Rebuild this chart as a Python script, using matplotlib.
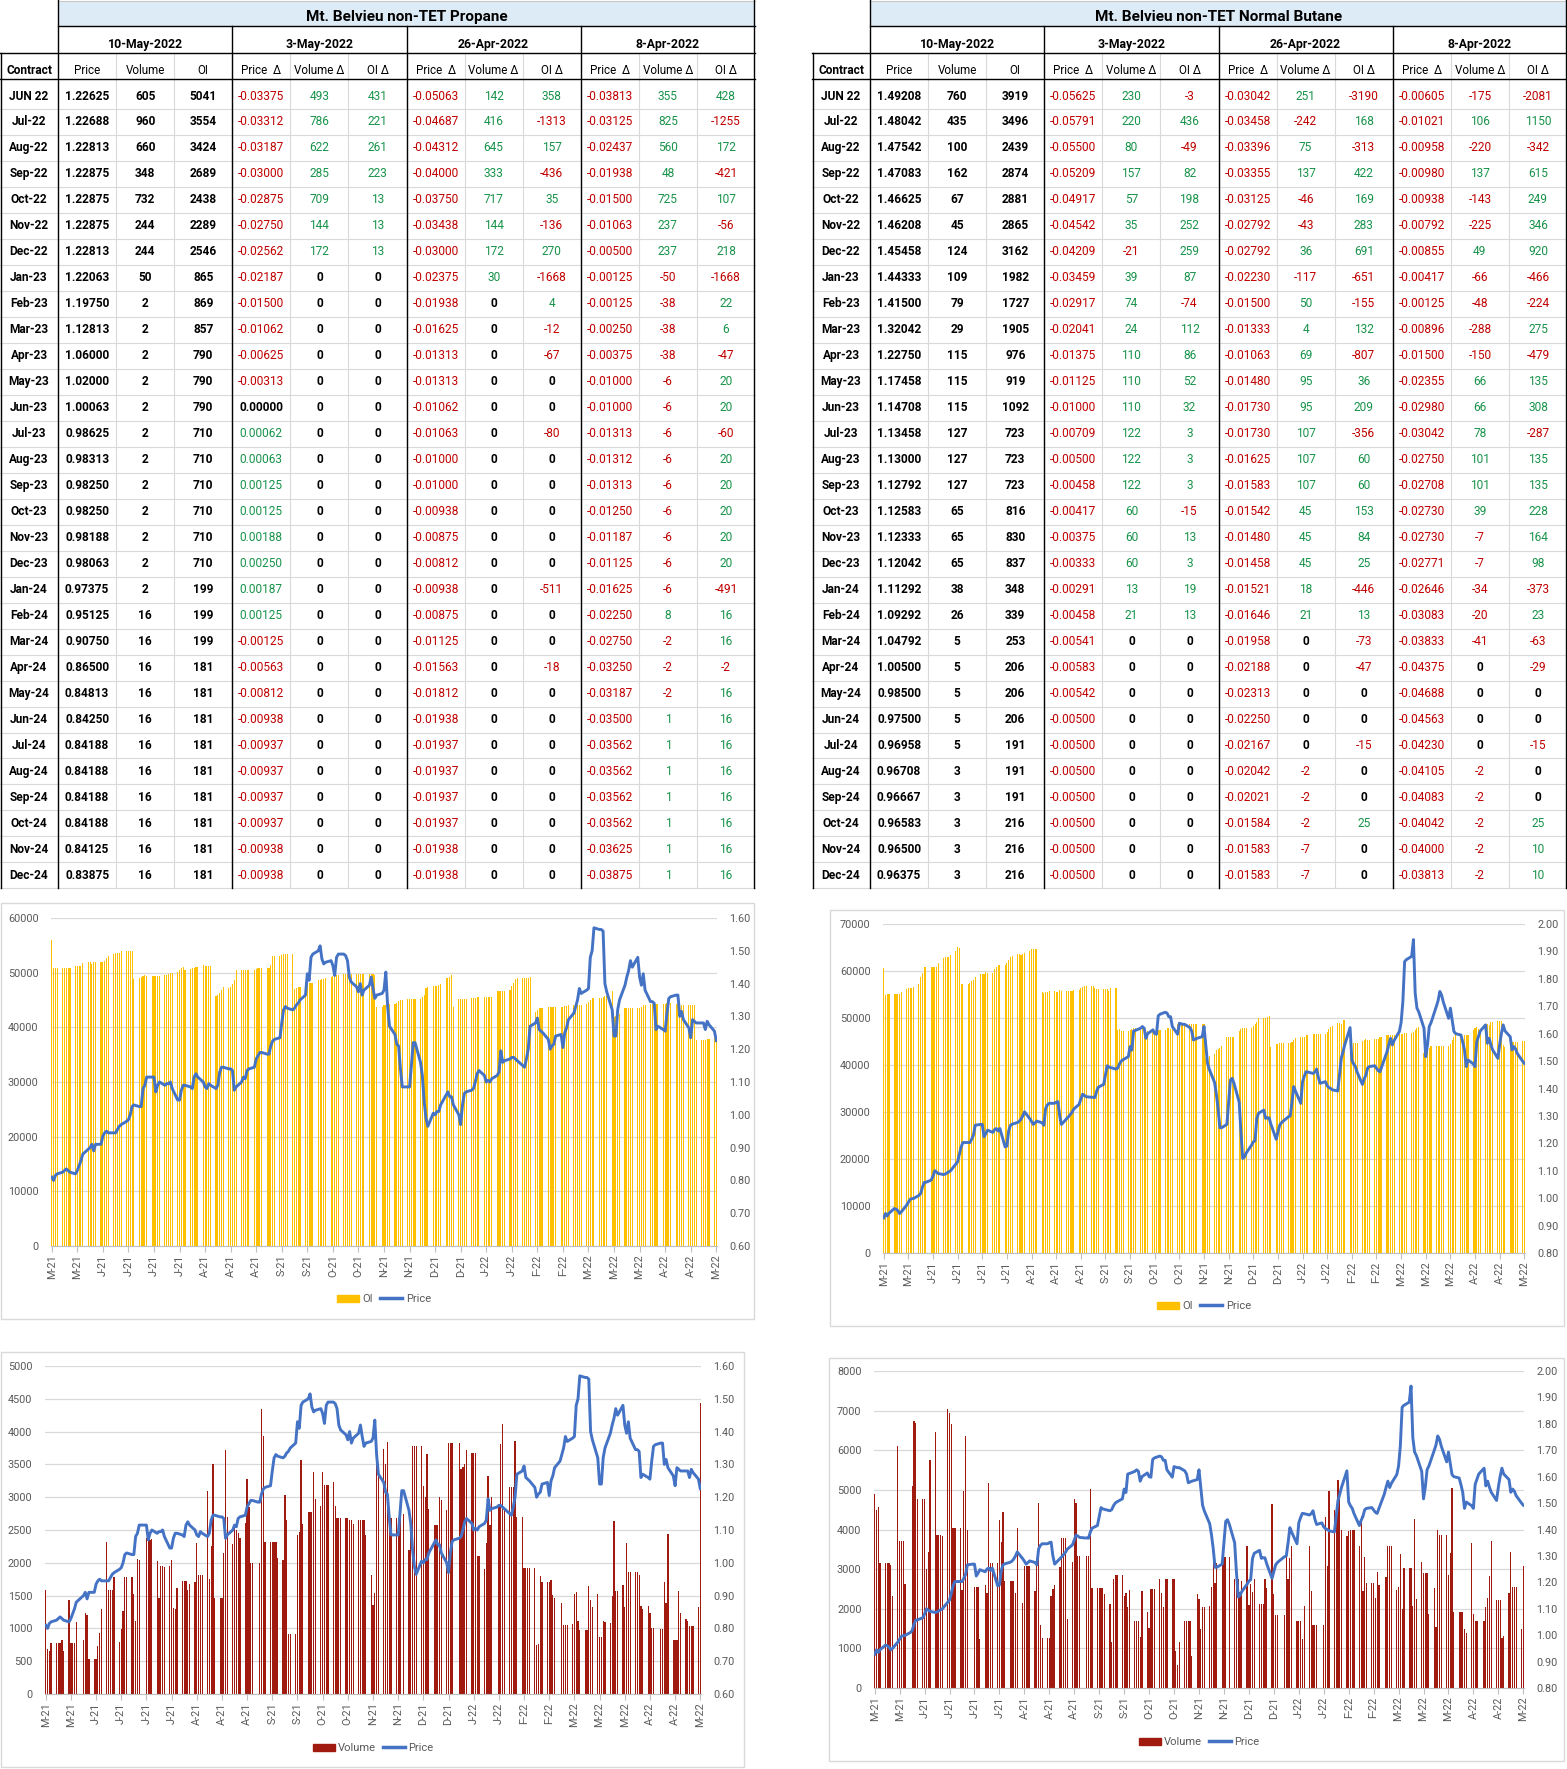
import numpy as np
import pandas as pd
import matplotlib
matplotlib.use("Agg")
import matplotlib.pyplot as plt
from matplotlib.patches import Rectangle, Patch
from matplotlib.lines import Line2D

plt.rcParams['font.family'] = ['Roboto', 'DejaVu Sans']

# ---------------- table data ----------------
contracts = ['JUN 22', 'Jul-22', 'Aug-22', 'Sep-22', 'Oct-22', 'Nov-22', 'Dec-22',
             'Jan-23', 'Feb-23', 'Mar-23', 'Apr-23', 'May-23', 'Jun-23', 'Jul-23',
             'Aug-23', 'Sep-23', 'Oct-23', 'Nov-23', 'Dec-23', 'Jan-24', 'Feb-24',
             'Mar-24', 'Apr-24', 'May-24', 'Jun-24', 'Jul-24', 'Aug-24', 'Sep-24',
             'Oct-24', 'Nov-24', 'Dec-24']
report_dates = ['10-May-2022', '3-May-2022', '26-Apr-2022', '8-Apr-2022']

# propane
c3_price = [1.22625, 1.22688, 1.22813, 1.22875, 1.22875, 1.22875, 1.22813, 1.22063, 1.19750,
            1.12813, 1.06000, 1.02000, 1.00063, 0.98625, 0.98313, 0.98250, 0.98250, 0.98188,
            0.98063, 0.97375, 0.95125, 0.90750, 0.86500, 0.84813, 0.84250, 0.84188, 0.84188,
            0.84188, 0.84188, 0.84125, 0.83875]
c3_volume = [605, 960, 660, 348, 732, 244, 244, 50, 2, 2, 2, 2, 2, 2, 2, 2, 2, 2, 2, 2,
             16, 16, 16, 16, 16, 16, 16, 16, 16, 16, 16]
c3_oi = [5041, 3554, 3424, 2689, 2438, 2289, 2546, 865, 869, 857, 790, 790, 790, 710, 710,
         710, 710, 710, 710, 199, 199, 199, 181, 181, 181, 181, 181, 181, 181, 181, 181]
c3_dprice_0503 = [-0.03375, -0.03312, -0.03187, -0.03000, -0.02875, -0.02750, -0.02562,
                  -0.02187, -0.01500, -0.01062, -0.00625, -0.00313, 0.00000, 0.00062, 0.00063,
                  0.00125, 0.00125, 0.00188, 0.00250, 0.00187, 0.00125, -0.00125, -0.00563,
                  -0.00812, -0.00938, -0.00937, -0.00937, -0.00937, -0.00937, -0.00938, -0.00938]
c3_dvol_0503 = [493, 786, 622, 285, 709, 144, 172] + [0] * 24
c3_doi_0503 = [431, 221, 261, 223, 13, 13, 13] + [0] * 24
c3_dprice_0426 = [-0.05063, -0.04687, -0.04312, -0.04000, -0.03750, -0.03438, -0.03000,
                  -0.02375, -0.01938, -0.01625, -0.01313, -0.01313, -0.01062, -0.01063, -0.01000,
                  -0.01000, -0.00938, -0.00875, -0.00812, -0.00938, -0.00875, -0.01125, -0.01563,
                  -0.01812, -0.01938, -0.01937, -0.01937, -0.01937, -0.01937, -0.01938, -0.01938]
c3_dvol_0426 = [142, 416, 645, 333, 717, 144, 172, 30] + [0] * 23
c3_doi_0426 = [358, -1313, 157, -436, 35, -136, 270, -1668, 4, -12, -67, 0, 0, -80, 0, 0, 0,
               0, 0, -511, 0, 0, -18, 0, 0, 0, 0, 0, 0, 0, 0]
c3_dprice_0408 = [-0.03813, -0.03125, -0.02437, -0.01938, -0.01500, -0.01063, -0.00500,
                  -0.00125, -0.00125, -0.00250, -0.00375, -0.01000, -0.01000, -0.01313, -0.01312,
                  -0.01313, -0.01250, -0.01187, -0.01125, -0.01625, -0.02250, -0.02750, -0.03250,
                  -0.03187, -0.03500, -0.03562, -0.03562, -0.03562, -0.03562, -0.03625, -0.03875]
c3_dvol_0408 = [355, 825, 560, 48, 725, 237, 237, -50, -38, -38, -38, -6, -6, -6, -6, -6, -6,
                -6, -6, -6, 8, -2, -2, -2, 1, 1, 1, 1, 1, 1, 1]
c3_doi_0408 = [428, -1255, 172, -421, 107, -56, 218, -1668, 22, 6, -47, 20, 20, -60, 20, 20, 20,
               20, 20, -491, 16, 16, -2, 16, 16, 16, 16, 16, 16, 16, 16]

# normal butane
c4_price = [1.49208, 1.48042, 1.47542, 1.47083, 1.46625, 1.46208, 1.45458, 1.44333, 1.41500,
            1.32042, 1.22750, 1.17458, 1.14708, 1.13458, 1.13000, 1.12792, 1.12583, 1.12333,
            1.12042, 1.11292, 1.09292, 1.04792, 1.00500, 0.98500, 0.97500, 0.96958, 0.96708,
            0.96667, 0.96583, 0.96500, 0.96375]
c4_volume = [760, 435, 100, 162, 67, 45, 124, 109, 79, 29, 115, 115, 115, 127, 127, 127, 65,
             65, 65, 38, 26, 5, 5, 5, 5, 5, 3, 3, 3, 3, 3]
c4_oi = [3919, 3496, 2439, 2874, 2881, 2865, 3162, 1982, 1727, 1905, 976, 919, 1092, 723, 723,
         723, 816, 830, 837, 348, 339, 253, 206, 206, 206, 191, 191, 191, 216, 216, 216]
c4_dprice_0503 = [-0.05625, -0.05791, -0.05500, -0.05209, -0.04917, -0.04542, -0.04209,
                  -0.03459, -0.02917, -0.02041, -0.01375, -0.01125, -0.01000, -0.00709, -0.00500,
                  -0.00458, -0.00417, -0.00375, -0.00333, -0.00291, -0.00458, -0.00541, -0.00583,
                  -0.00542, -0.00500, -0.00500, -0.00500, -0.00500, -0.00500, -0.00500, -0.00500]
c4_dvol_0503 = [230, 220, 80, 157, 57, 35, -21, 39, 74, 24, 110, 110, 110, 122, 122, 122, 60,
                60, 60, 13, 21, 0, 0, 0, 0, 0, 0, 0, 0, 0, 0]
c4_doi_0503 = [-3, 436, -49, 82, 198, 252, 259, 87, -74, 112, 86, 52, 32, 3, 3, 3, -15, 13, 3,
               19, 13, 0, 0, 0, 0, 0, 0, 0, 0, 0, 0]
c4_dprice_0426 = [-0.03042, -0.03458, -0.03396, -0.03355, -0.03125, -0.02792, -0.02792,
                  -0.02230, -0.01500, -0.01333, -0.01063, -0.01480, -0.01730, -0.01730, -0.01625,
                  -0.01583, -0.01542, -0.01480, -0.01458, -0.01521, -0.01646, -0.01958, -0.02188,
                  -0.02313, -0.02250, -0.02167, -0.02042, -0.02021, -0.01584, -0.01583, -0.01583]
c4_dvol_0426 = [251, -242, 75, 137, -46, -43, 36, -117, 50, 4, 69, 95, 95, 107, 107, 107, 45,
                45, 45, 18, 21, 0, 0, 0, 0, 0, -2, -2, -2, -7, -7]
c4_doi_0426 = [-3190, 168, -313, 422, 169, 283, 691, -651, -155, 132, -807, 36, 209, -356, 60,
               60, 153, 84, 25, -446, 13, -73, -47, 0, 0, -15, 0, 0, 25, 0, 0]
c4_dprice_0408 = [-0.00605, -0.01021, -0.00958, -0.00980, -0.00938, -0.00792, -0.00855,
                  -0.00417, -0.00125, -0.00896, -0.01500, -0.02355, -0.02980, -0.03042, -0.02750,
                  -0.02708, -0.02730, -0.02730, -0.02771, -0.02646, -0.03083, -0.03833, -0.04375,
                  -0.04688, -0.04563, -0.04230, -0.04105, -0.04083, -0.04042, -0.04000, -0.03813]
c4_dvol_0408 = [-175, 106, -220, 137, -143, -225, 49, -66, -48, -288, -150, 66, 66, 78, 101, 101,
                39, -7, -7, -34, -20, -41, 0, 0, 0, 0, -2, -2, -2, -2, -2]
c4_doi_0408 = [-2081, 1150, -342, 615, 249, 346, 920, -466, -224, 275, -479, 135, 308, -287, 135,
               135, 228, 164, 98, -373, 23, -63, -29, 0, 0, -15, 0, 0, 25, 10, 10]

# ---------------- daily history (11-May-2021 .. 10-May-2022, one row per week) ----------------
c3_hist_price = [
    0.81, 0.80, 0.815, 0.82,
    0.825, 0.83, 0.835, 0.83, 0.825,
    0.82, 0.83, 0.845, 0.86, 0.88,
    0.895, 0.90, 0.91, 0.89, 0.91,
    0.91, 0.935, 0.945, 0.95, 0.945,
    0.945, 0.945, 0.955, 0.965, 0.97,
    0.98, 0.985, 1.00, 1.025, 1.03,
    1.025, 1.025, 1.08, 1.09, 1.115,
    1.115, 1.115, 1.07, 1.09, 1.10,
    1.09, 1.095, 1.095, 1.10, 1.08,
    1.045, 1.045, 1.075, 1.09, 1.09,
    1.085, 1.08, 1.115, 1.125, 1.115,
    1.10, 1.085, 1.08, 1.095, 1.09,
    1.08, 1.09, 1.13, 1.145, 1.145,
    1.14, 1.14, 1.135, 1.075, 1.085,
    1.10, 1.115, 1.11, 1.135, 1.14,
    1.145, 1.17, 1.18, 1.19, 1.19,
    1.185, 1.185, 1.21, 1.225, 1.23,
    1.235, 1.28, 1.32, 1.33, 1.325,
    1.32, 1.325, 1.335, 1.34, 1.35,
    1.365, 1.43, 1.41, 1.48, 1.49,
    1.50, 1.515, 1.475, 1.46, 1.465,
    1.47, 1.455, 1.425, 1.48, 1.49,
    1.49, 1.485, 1.47, 1.42, 1.405,
    1.39, 1.375, 1.40, 1.365, 1.38,
    1.395, 1.42, 1.385, 1.355, 1.365,
    1.37, 1.38, 1.435, 1.33, 1.27,
    1.245, 1.215, 1.21, 1.14, 1.085,
    1.085, 1.085, 1.15, 1.22, 1.22,
    1.16, 1.12, 1.04, 0.99, 0.965,
    1.005, 1.00, 1.01, 1.01, 1.03,
    1.06, 1.07, 1.055, 1.055, 1.03,
    1.00, 0.97, 1.03, 1.065, 1.07,
    1.075, 1.08, 1.10, 1.125, 1.135,
    1.12, 1.10, 1.105, 1.10, 1.11,
    1.12, 1.13, 1.195, 1.16, 1.165,
    1.17, 1.175, 1.175, 1.17, 1.165,
    1.15, 1.145, 1.17, 1.20, 1.27,
    1.28, 1.295, 1.26, 1.255, 1.25,
    1.23, 1.20, 1.21, 1.215, 1.24,
    1.245, 1.205, 1.25, 1.265, 1.29,
    1.31, 1.33, 1.35, 1.385, 1.37,
    1.38, 1.385, 1.48, 1.50, 1.57,
    1.565, 1.565, 1.56, 1.40, 1.375,
    1.32, 1.24, 1.24, 1.32, 1.35,
    1.395, 1.42, 1.44, 1.47, 1.45,
    1.48, 1.42, 1.395, 1.43, 1.38,
    1.345, 1.345, 1.34, 1.26, 1.27,
    1.26, 1.255, 1.31, 1.355, 1.36,
    1.365, 1.365, 1.30, 1.315, 1.29,
    1.265, 1.235, 1.29, 1.285, 1.28,
    1.28, 1.28, 1.26, 1.285, 1.275,
    1.255, 1.226]

c3_hist_oi = [
    56000, 50800, 50800, 50900,
    50900, 50900, 50900, 50900, 50900,
    51200, 51300, 51300, 51300, 51800,
    51900, 51900, 51500, 51900, 51900,
    51900, 51900, 52200, 52600, 53000,
    53400, 53600, 53600, 53600, 53900,
    54000, 54000, 54000, 54000, 48900,
    49000, 49200, 49300, 49600, 49400,
    49300, 49300, 49300, 49300, 49300,
    49500, 49600, 49800, 50000, 50000,
    50200, 50500, 50800, 51000, 50400,
    50700, 50800, 50900, 51100, 51000,
    51400, 51200, 51200, 51200, 51200,
    45800, 45900, 46200, 46800, 47300,
    47200, 47400, 47900, 48600, 50400,
    50400, 50400, 50400, 50400, 50400,
    50400, 50600, 50800, 50800, 50800,
    50800, 50900, 51400, 53100, 53100,
    53100, 53200, 53400, 53400, 53400,
    53400, 47100, 47200, 47300, 47300,
    47500, 47700, 48100, 48100, 48100,
    48700, 48700, 48800, 48900, 49000,
    49200, 49300, 49300, 49500, 49500,
    49800, 49800, 49800, 49800, 49800,
    49800, 49800, 49800, 49800, 49800,
    49800, 49800, 49800, 49600, 43800,
    43800, 44000, 44000, 44200, 44200,
    44300, 44500, 44800, 45000, 45000,
    45200, 45200, 45200, 45200, 45200,
    45200, 45600, 46000, 47200, 47300,
    47500, 47500, 47600, 47800, 48000,
    49000, 49000, 49200, 49500, 43800,
    45200, 45200, 45200, 45200, 45200,
    45300, 45400, 45400, 45500, 45600,
    45500, 45500, 45500, 45600, 45600,
    46700, 46700, 46700, 46700, 46700,
    46800, 47500, 48200, 48800, 49000,
    49000, 49000, 49000, 49000, 49200,
    42800, 43200, 43500, 43600, 43600,
    43800, 43800, 43800, 43800, 43800,
    43800, 43800, 43900, 43900, 44000,
    44000, 44000, 44000, 44000, 44000,
    44300, 44700, 45000, 45300, 45300,
    45300, 45300, 45500, 45800, 45800,
    46700, 41800, 42000, 42300, 42500,
    43500, 43500, 43500, 43500, 43500,
    43500, 43600, 43800, 44000, 44100,
    44200, 44200, 44200, 44200, 44200,
    44300, 44300, 44400, 44500, 44500,
    44300, 44300, 44100, 44100, 44000,
    44000, 44000, 44000, 44000, 37600,
    37600, 37600, 37700, 37800, 37800,
    38000, 38500]

c3_hist_volume = [
    1580, 680, 660, 770,
    770, 770, 770, 830, 650,
    1430, 770, 770, 770, 1100,
    0, 830, 1230, 1210, 540,
    540, 540, 730, 930, 1290,
    2310, 1580, 1580, 1580, 1790,
    790, 990, 1260, 1790, 1790,
    1790, 1520, 1110, 2060, 2040,
    0, 2380, 2350, 2350, 2360,
    2020, 1470, 1950, 1950, 1930,
    1950, 2050, 1310, 1290, 1610,
    1730, 1730, 1730, 1590, 1670,
    1710, 2300, 1820, 1820, 1820,
    3090, 1760, 2260, 3500, 1470,
    1470, 1470, 2150, 3720, 2700,
    2290, 2580, 2500, 2460, 2380,
    2600, 3270, 2850, 1990, 1990,
    0, 1990, 4350, 3940, 2310,
    2310, 2310, 2310, 2310, 2070,
    2040, 3030, 2650, 920, 920,
    920, 2430, 2470, 3560, 2590,
    2780, 2780, 2780, 3390, 2970,
    2860, 3390, 3190, 3190, 3190,
    3230, 2870, 2690, 2690, 2690,
    2690, 2690, 2660, 2660, 2590,
    2660, 2660, 2660, 2660, 2420,
    1820, 1360, 1540, 3740, 3500,
    3740, 3500, 3840, 2690, 2690,
    2690, 2690, 2690, 0, 2740,
    2190, 2740, 3780, 3780, 3780,
    3780, 3170, 3000, 3660, 2820,
    2580, 2580, 2580, 3000, 2960,
    2800, 3820, 3820, 3820, 0,
    3820, 3430, 3460, 3500, 3720,
    3670, 3670, 3670, 2100, 2100,
    1900, 2300, 3320, 2580, 3000,
    0, 2900, 3810, 4110, 2800,
    3150, 3150, 3150, 3860, 2700,
    2700, 1920, 1920, 1920, 1920,
    1920, 740, 760, 1800, 1700,
    1700, 1700, 1740, 1510, 1470,
    0, 1390, 1050, 1050, 1050,
    1060, 1530, 1560, 1110, 980,
    980, 980, 1640, 1430, 1330,
    1520, 870, 870, 1120, 1100,
    1080, 1500, 2640, 1570, 1570,
    1660, 1330, 2300, 1860, 1860,
    1860, 1860, 1810, 1340, 1290,
    1340, 1230, 1000, 1000, 0,
    990, 990, 1710, 1380, 2440,
    820, 820, 820, 1570, 1230,
    1140, 1120, 1040, 1040, 1040,
    1320, 4430]

c4_hist_price = [
    0.928, 0.944, 0.935, 0.945,
    0.962, 0.96, 0.955, 0.944, 0.95,
    0.974, 0.985, 0.996, 0.998, 0.999,
    1.01, 1.017, 1.04, 1.057, 1.058,
    1.066, 1.08, 1.10, 1.095, 1.09,
    1.086, 1.088, 1.092, 1.096, 1.10,
    1.125, 1.133, 1.16, 1.187, 1.203,
    1.203, 1.203, 1.215, 1.23, 1.266,
    1.269, 1.269, 1.224, 1.235, 1.248,
    1.24, 1.25, 1.254, 1.245, 1.254,
    1.187, 1.19, 1.245, 1.266, 1.27,
    1.276, 1.28, 1.288, 1.30, 1.315,
    1.29, 1.28, 1.269, 1.275, 1.281,
    1.275, 1.266, 1.327, 1.34, 1.346,
    1.346, 1.35, 1.352, 1.30, 1.269,
    1.29, 1.297, 1.305, 1.313, 1.325,
    1.342, 1.36, 1.379, 1.375, 1.37,
    1.368, 1.368, 1.367, 1.39, 1.405,
    1.415, 1.45, 1.483, 1.478, 1.476,
    1.471, 1.475, 1.49, 1.50, 1.505,
    1.516, 1.553, 1.54, 1.61, 1.612,
    1.62, 1.626, 1.62, 1.583, 1.60,
    1.614, 1.60, 1.598, 1.665, 1.671,
    1.678, 1.675, 1.662, 1.662, 1.626,
    1.598, 1.638, 1.636, 1.634, 1.634,
    1.622, 1.61, 1.577, 1.58, 1.583,
    1.589, 1.626, 1.56, 1.492, 1.47,
    1.422, 1.38, 1.327, 1.257, 1.257,
    1.269, 1.35, 1.431, 1.437, 1.42,
    1.35, 1.24, 1.145, 1.15, 1.165,
    1.193, 1.205, 1.21, 1.29, 1.31,
    1.321, 1.291, 1.293, 1.293, 1.27,
    1.215, 1.24, 1.266, 1.275, 1.281,
    1.297, 1.30, 1.35, 1.407, 1.39,
    1.346, 1.425, 1.445, 1.461, 1.46,
    1.455, 1.46, 1.471, 1.44, 1.419,
    1.425, 1.41, 1.403, 1.40, 1.395,
    1.391, 1.45, 1.51, 1.534, 1.56,
    1.622, 1.504, 1.49, 1.48, 1.46,
    1.415, 1.435, 1.449, 1.475, 1.48,
    1.483, 1.474, 1.465, 1.461, 1.48,
    1.534, 1.56, 1.583, 1.559, 1.575,
    1.608, 1.64, 1.717, 1.863, 1.87,
    1.882, 1.943, 1.748, 1.693, 1.68,
    1.62, 1.516, 1.56, 1.626, 1.64,
    1.699, 1.72, 1.754, 1.741, 1.715,
    1.656, 1.693, 1.65, 1.608, 1.60,
    1.595, 1.57, 1.541, 1.48, 1.504,
    1.49, 1.48, 1.571, 1.59, 1.61,
    1.632, 1.565, 1.583, 1.56, 1.541,
    1.51, 1.56, 1.601, 1.632, 1.61,
    1.589, 1.541, 1.553, 1.545, 1.528,
    1.50, 1.492]

c4_hist_oi = [
    60600, 54800, 55200, 55200,
    55200, 55200, 55200, 55200, 55600,
    56200, 56300, 56300, 56400, 56700,
    57200, 58800, 59600, 60800, 60800,
    60800, 60800, 60800, 60800, 61600,
    62700, 62900, 62900, 62900, 63400,
    64300, 65200, 64800, 57300, 57300,
    57300, 57500, 57800, 58100, 58700,
    59400, 59400, 59400, 59700, 59500,
    59600, 60400, 60900, 61200, 61200,
    61200, 61800, 62400, 62900, 63200,
    63600, 63600, 63400, 63600, 63800,
    64300, 64600, 64600, 64600, 64600,
    55500, 55400, 55600, 55600, 55700,
    55700, 55500, 55600, 56000, 55800,
    55700, 55700, 55700, 55700, 55900,
    55900, 56300, 56600, 56900, 56900,
    56800, 56800, 56400, 56100, 56100,
    56100, 56100, 56100, 55800, 56300,
    56300, 47400, 47700, 47300, 47300,
    47300, 47400, 47600, 47800, 47800,
    47800, 48000, 47400, 47300, 47300,
    47300, 47200, 47400, 47400, 47400,
    47500, 47800, 47900, 47600, 47600,
    48700, 48700, 48700, 48700, 48700,
    48700, 48700, 48700, 48700, 48700,
    48700, 48700, 41500, 41600, 42000,
    42300, 43100, 43400, 43700, 44000,
    45900, 45900, 45900, 45900, 45900,
    47200, 47600, 47800, 47800, 47800,
    47800, 48300, 48700, 49200, 50000,
    50100, 50100, 50300, 50400, 43800,
    44400, 44400, 44700, 44700, 44700,
    44600, 44700, 45000, 45400, 45700,
    45900, 45900, 46000, 46300, 46300,
    46600, 46600, 46600, 46600, 46600,
    46600, 47000, 47700, 48100, 48200,
    48900, 48900, 48800, 49500, 49500,
    44700, 44700, 44700, 44700, 44700,
    45200, 45400, 45600, 45300, 45400,
    45500, 45500, 45600, 45900, 45900,
    46300, 46300, 46300, 46300, 46300,
    46600, 46700, 46700, 46900, 46900,
    46800, 47100, 47500, 47900, 48000,
    42600, 42800, 43000, 43700, 44000,
    44100, 44100, 44100, 44100, 44100,
    44100, 44500, 45400, 45900, 46300,
    46000, 46000, 46300, 46300, 46300,
    47500, 47900, 48000, 47700, 47700,
    48300, 48700, 48600, 49200, 49200,
    49400, 49400, 49400, 44200, 43800,
    44800, 44800, 44800, 44800, 44800,
    45200, 45200]

c4_hist_volume = [
    4900, 4490, 4570, 3150,
    3150, 3150, 3150, 3100, 2320,
    6100, 3720, 3720, 3720, 2620,
    0, 5090, 6730, 6680, 4780,
    4780, 4780, 3000, 3420, 5760,
    6450, 3870, 3870, 3870, 3840,
    7030, 6950, 6650, 4050, 4050,
    4050, 2480, 4960, 6350, 4000,
    0, 2550, 2550, 2550, 1230,
    2590, 2410, 5180, 3150, 3150,
    3150, 4250, 3680, 4450, 2700,
    2710, 2710, 2710, 2400, 4050,
    2150, 3080, 3080, 3080, 3080,
    2450, 3080, 4660, 1600, 1250,
    1250, 1250, 2310, 2490, 2610,
    3060, 3790, 3790, 3790, 1730,
    3170, 4780, 4680, 3340, 3340,
    0, 3340, 3340, 5030, 2520,
    2520, 2520, 2520, 2520, 2380,
    2110, 1170, 2760, 2860, 2860,
    2860, 2320, 2390, 2040, 2480,
    1700, 1700, 1700, 1280, 2440,
    1930, 1520, 2490, 2490, 2490,
    2760, 2390, 2040, 2760, 2760,
    2760, 2760, 940, 570, 1170,
    1700, 1700, 1700, 1700, 820,
    2360, 2240, 1500, 2040, 2040,
    2060, 2540, 3340, 2660, 3160,
    3240, 3310, 3310, 0, 3310,
    2760, 3290, 2760, 2420, 2700,
    3580, 2100, 2620, 2420, 2760,
    2110, 2110, 2110, 2760, 2520,
    4640, 2380, 1850, 1850, 0,
    1850, 3580, 2740, 3290, 3580,
    1700, 1700, 1700, 1240, 2060,
    3580, 2440, 1600, 1600, 1600,
    0, 1600, 4320, 3090, 4970,
    4480, 4480, 5250, 4870, 4000,
    3830, 3960, 3980, 3980, 3980,
    3580, 4330, 2460, 3300, 2640,
    2640, 2640, 2280, 2940, 2600,
    0, 2810, 3580, 3580, 3580,
    2480, 2560, 3370, 2000, 3030,
    3030, 3030, 2060, 4260, 2240,
    3190, 2890, 2890, 2890, 1860,
    2520, 1530, 3980, 3860, 3860,
    3860, 2840, 3400, 5040, 1930,
    1930, 1930, 1930, 1500, 1380,
    3650, 1860, 1690, 1690, 0,
    1700, 2050, 2280, 2820, 3700,
    2210, 2210, 2210, 1270, 1300,
    2410, 3420, 2540, 2540, 2540,
    1500, 3090]

hist_dates = pd.bdate_range('2021-05-11', '2022-05-10')
tick_labels = ['M-21', 'M-21', 'J-21', 'J-21', 'J-21', 'J-21', 'A-21', 'A-21', 'A-21',
               'S-21', 'S-21', 'O-21', 'O-21', 'N-21', 'N-21', 'D-21', 'D-21', 'J-22',
               'J-22', 'F-22', 'F-22', 'M-22', 'M-22', 'M-22', 'A-22', 'A-22', 'M-22']

# ---------------- figure ----------------
W, H = 1567, 1769
fig = plt.figure(figsize=(W / 100, H / 100), dpi=100)
bg = fig.add_axes([0, 0, 1, 1])
bg.set_xlim(0, W)
bg.set_ylim(H, 0)
bg.axis('off')

RED = '#C00000'
GREEN = '#18934A'
GRID = '#D9D9D9'


def cell_text(x, y, val, fmt, signed):
    s = fmt.format(val)
    if signed and val < 0:
        color, weight = RED, 'normal'
    elif signed and val > 0:
        color, weight = GREEN, 'normal'
    else:
        color, weight = 'black', 'bold'
    bg.text(x, y, s, ha='center', va='center', fontsize=8.6, color=color, fontweight=weight)


def draw_table(x0, title, cols):
    cw = 58.08
    right = x0 + 13 * cw
    row0, pitch, nrow = 96.0, 25.98, len(contracts)
    bottom = row0 + pitch * (nrow - 1) + 13
    # title band
    bg.add_patch(Rectangle((x0 + cw, 1), 12 * cw, 25, fc='#DDEBF7', ec='none'))
    bg.plot([x0 + cw, right], [1, 1], color='#C8C8C8', lw=0.8)
    bg.text(x0 + cw + 6 * cw, 17, title, ha='center', va='center', fontsize=11,
            fontweight='bold')
    for g, d in enumerate(report_dates):
        bg.text(x0 + cw + 3 * cw * g + 1.5 * cw, 44, d, ha='center', va='center',
                fontsize=8.8, fontweight='bold')
    heads = ['Price', 'Volume', 'OI'] + ['Price  Δ', 'Volume Δ', 'OI Δ'] * 3
    bg.text(x0 + cw / 2, 70, 'Contract', ha='center', va='center', fontsize=8.6,
            fontweight='bold')
    for j, hd in enumerate(heads):
        bg.text(x0 + cw * (j + 1.5), 70, hd, ha='center', va='center', fontsize=8.4)
    # light grid
    for i in range(1, nrow):
        y = row0 + pitch * i - 13
        bg.plot([x0, right], [y, y], color=GRID, lw=0.8)
    bg.plot([x0, right], [bottom, bottom], color=GRID, lw=0.8)
    for j in range(2, 13):
        bg.plot([x0 + cw * j] * 2, [53, bottom], color=GRID, lw=0.8)
    # black borders
    bg.plot([x0 + cw, right], [26, 26], color='black', lw=1.0)
    bg.plot([x0, right], [53, 53], color='black', lw=1.0)
    bg.plot([x0, right], [79, 79], color='black', lw=1.0)
    bg.plot([x0 + 1, x0 + 1], [53, bottom], color='black', lw=1.0)
    bg.plot([x0 + cw] * 2, [0, bottom], color='black', lw=1.0)
    for g in range(1, 4):
        bg.plot([x0 + cw + 3 * cw * g] * 2, [26, bottom], color='black', lw=1.0)
    bg.plot([right - 1] * 2, [0, bottom], color='black', lw=1.0)
    # rows
    fmts = ['{:.5f}', '{:d}', '{:d}'] + ['{:.5f}', '{:d}', '{:d}'] * 3
    for i in range(nrow):
        y = row0 + pitch * i
        bg.text(x0 + cw / 2, y, contracts[i], ha='center', va='center', fontsize=8.6,
                fontweight='bold')
        for j, col in enumerate(cols):
            cell_text(x0 + cw * (j + 1.5), y, col[i], fmts[j], j >= 3)


draw_table(0, 'Mt. Belvieu non-TET Propane',
           [c3_price, c3_volume, c3_oi, c3_dprice_0503, c3_dvol_0503, c3_doi_0503,
            c3_dprice_0426, c3_dvol_0426, c3_doi_0426, c3_dprice_0408, c3_dvol_0408, c3_doi_0408])
draw_table(812, 'Mt. Belvieu non-TET Normal Butane',
           [c4_price, c4_volume, c4_oi, c4_dprice_0503, c4_dvol_0503, c4_doi_0503,
            c4_dprice_0426, c4_dvol_0426, c4_doi_0426, c4_dprice_0408, c4_dvol_0408, c4_doi_0408])

xd = (hist_dates - hist_dates[0]).days.values
TXT = '#595959'


def draw_chart(box, plot, bars, bar_color, bar_width, bar_label, price, lmax, lstep,
               rmin, rmax, leg_y):
    bg.add_patch(Rectangle((box[0], box[1]), box[2] - box[0], box[3] - box[1],
                           fill=False, ec=GRID, lw=1.0))
    ax = fig.add_axes([plot[0] / W, 1 - plot[3] / H, (plot[2] - plot[0]) / W,
                       (plot[3] - plot[1]) / H])
    ax.patch.set_alpha(0)
    ax.bar(xd, bars, width=bar_width, color=bar_color, linewidth=0)
    ax.set_xlim(-0.4, 364.4)
    ax.set_ylim(0, lmax)
    ax.set_yticks(np.arange(0, lmax + 1, lstep))
    ax.grid(axis='y', color=GRID, lw=0.9)
    ax.set_axisbelow(True)
    ax.set_xticks(np.arange(0, 365, 14))
    ax.set_xticklabels(tick_labels, rotation=90)
    for s in ['top', 'left', 'right']:
        ax.spines[s].set_visible(False)
    ax.spines['bottom'].set_color('#BFBFBF')
    ax.tick_params(axis='x', length=4, color='#BFBFBF', labelsize=7.8, labelcolor=TXT, pad=2)
    ax.tick_params(axis='y', length=0, labelsize=7.8, labelcolor=TXT, pad=9)

    ax2 = ax.twinx()
    ax2.plot(xd, price, color='#4472C4', lw=2.1, solid_joinstyle='round')
    ax2.set_ylim(rmin, rmax)
    ax2.set_yticks(np.arange(rmin, rmax + 0.001, 0.1))
    ax2.set_yticklabels(['{:.2f}'.format(t) for t in np.arange(rmin, rmax + 0.001, 0.1)])
    for s in ['top', 'left', 'right', 'bottom']:
        ax2.spines[s].set_visible(False)
    ax2.tick_params(axis='y', length=0, labelsize=7.8, labelcolor=TXT, pad=9)

    ly = (plot[3] - leg_y) / (plot[3] - plot[1])
    handles = [Patch(color=bar_color), Line2D([], [], color='#4472C4', lw=2.5)]
    ax2.legend(handles, [bar_label, 'Price'], loc='center', bbox_to_anchor=(0.5, ly),
               ncol=2, frameon=False, fontsize=8, labelcolor=TXT, handlelength=2.0,
               handleheight=0.6, handletextpad=0.3, columnspacing=0.6)


GOLD = '#FFC000'
DARKRED = '#A01A10'
draw_chart((1, 903, 754, 1319), (51, 918, 717, 1246), c3_hist_oi, GOLD, 0.6, 'OI',
           c3_hist_price, 60000, 10000, 0.60, 1.60, 1299)
draw_chart((830, 910, 1564, 1326), (883, 924, 1525, 1253), c4_hist_oi, GOLD, 0.6, 'OI',
           c4_hist_price, 70000, 10000, 0.80, 2.00, 1306)
draw_chart((1, 1352, 744, 1767), (45, 1366, 701, 1694), c3_hist_volume, DARKRED, 0.7, 'Volume',
           c3_hist_price, 5000, 500, 0.60, 1.60, 1748)
draw_chart((829, 1358, 1564, 1761), (874, 1371, 1524, 1688), c4_hist_volume, DARKRED, 0.7,
           'Volume', c4_hist_price, 8000, 1000, 0.80, 2.00, 1742)

fig.savefig('out.png', dpi=100)
